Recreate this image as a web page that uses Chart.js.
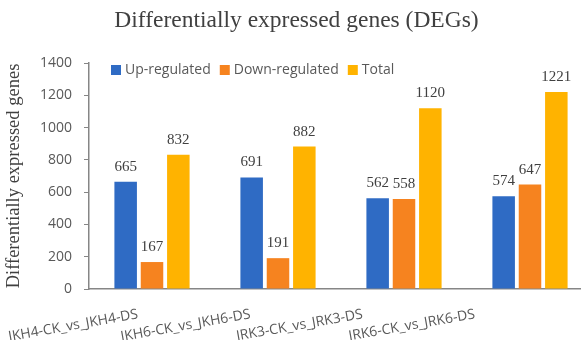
<!DOCTYPE html>
<html>
<head>
<meta charset="utf-8">
<script src="https://cdn.jsdelivr.net/npm/chart.js@4.4.0/dist/chart.umd.min.js"></script>
<style>
body { margin: 0; background: #fff; overflow: hidden; }
#area { width: 600px; height: 340px; }
</style>
</head>
<body>
<div id="area"><canvas id="grafico" width="600" height="340"></canvas></div>
<script>
// Dados do grafico
const comparacoes = ['JKH4-CK_vs_JKH4-DS', 'JKH6-CK_vs_JKH6-DS', 'JRK3-CK_vs_JRK3-DS', 'JRK6-CK_vs_JRK6-DS'];
const upRegulated = [665, 691, 562, 574];
const downRegulated = [167, 191, 558, 647];
const totalDegs = [832, 882, 1120, 1221];
const nomesSeries = ['Up-regulated', 'Down-regulated', 'Total'];
const coresSeries = ['#2F6BC4', '#F6831F', '#FFB300'];
const ticksY = [0, 200, 400, 600, 800, 1000, 1200, 1400];

const corTexto = '#595959';
const corEixo = '#868686';

// numeros em cima das barras
const rotulosValores = {
  id: 'rotulosValores',
  afterDatasetsDraw(chart) {
    const ctx = chart.ctx;
    ctx.save();
    ctx.font = '15px "Liberation Serif"';
    ctx.fillStyle = '#404040';
    ctx.textAlign = 'center';
    ctx.textBaseline = 'alphabetic';
    chart.data.datasets.forEach((ds, i) => {
      chart.getDatasetMeta(i).data.forEach((bar, j) => {
        ctx.fillText(ds.data[j], bar.x, bar.y - 11);
      });
    });
    ctx.restore();
  }
};

// legenda dentro da area do grafico
const legendaInterna = {
  id: 'legendaInterna',
  afterDraw(chart) {
    const ctx = chart.ctx;
    const area = chart.chartArea;
    let x = area.left + 22;
    const y = area.top + 7;
    ctx.save();
    ctx.font = '14px "Open Sans"';
    ctx.textBaseline = 'middle';
    ctx.textAlign = 'left';
    chart.data.datasets.forEach((ds) => {
      ctx.fillStyle = ds.backgroundColor;
      ctx.fillRect(x, y - 5, 10, 10);
      x += 14;
      ctx.fillStyle = corTexto;
      ctx.fillText(ds.label, x, y);
      x += ctx.measureText(ds.label).width + 9;
    });
    ctx.restore();
  }
};

const ctx = document.getElementById('grafico').getContext('2d');
const grafico = new Chart(ctx, {
  type: 'bar',
  data: {
    labels: comparacoes,
    datasets: [
      { label: nomesSeries[0], data: upRegulated, backgroundColor: coresSeries[0] },
      { label: nomesSeries[1], data: downRegulated, backgroundColor: coresSeries[1] },
      { label: nomesSeries[2], data: totalDegs, backgroundColor: coresSeries[2] }
    ]
  },
  options: {
    responsive: false,
    animation: false,
    categoryPercentage: 0.627,
    barPercentage: 0.855,
    layout: { padding: { left: 0, right: 7, top: 0, bottom: 0 } },
    plugins: {
      legend: { display: false },
      tooltip: { enabled: false },
      title: {
        display: true,
        text: 'Differentially expressed genes (DEGs)',
        color: '#404040',
        font: { family: 'Liberation Serif', size: 23.5, weight: 'normal' },
        padding: { top: 7, bottom: 27.8 }
      }
    },
    scales: {
      x: {
        grid: { display: false },
        border: { display: true, color: corEixo, width: 1.5 },
        ticks: { display: false },
        afterFit: (scale) => { scale.height = 0; }
      },
      // eixo so para os nomes das comparacoes (ficam mais juntos que as barras)
      xl: {
        type: 'linear',
        position: 'bottom',
        offset: false,
        min: -0.436,
        max: 4.051,
        grid: { display: false, offset: false },
        border: { display: false },
        afterBuildTicks: (scale) => { scale.ticks = comparacoes.map((c, i) => ({ value: i })); },
        ticks: {
          autoSkip: false,
          minRotation: 10,
          maxRotation: 10,
          padding: 9,
          color: corTexto,
          font: { family: 'Open Sans', size: 14 },
          callback: (v) => comparacoes[v]
        },
        afterFit: (scale) => {
          scale.height = 51;
          scale.paddingLeft = 0;
          scale.paddingRight = 0;
        }
      },
      y: {
        min: 0,
        max: 1400,
        afterBuildTicks: (scale) => { scale.ticks = ticksY.map(v => ({ value: v })); },
        grid: { drawOnChartArea: false, drawTicks: true, tickLength: 5, color: corEixo },
        border: { display: true, color: corEixo, width: 1.5 },
        ticks: {
          padding: 12,
          color: corTexto,
          font: { family: 'Open Sans', size: 14 },
          callback: (v) => String(v)
        },
        title: {
          display: true,
          text: 'Differentially expressed genes',
          color: '#404040',
          font: { family: 'Liberation Serif', size: 18.5, weight: 'normal' },
          padding: { top: 3, bottom: 0 }
        },
        afterFit: (scale) => { scale.width = 89; }
      }
    }
  },
  plugins: [rotulosValores, legendaInterna]
});
</script>
</body>
</html>
